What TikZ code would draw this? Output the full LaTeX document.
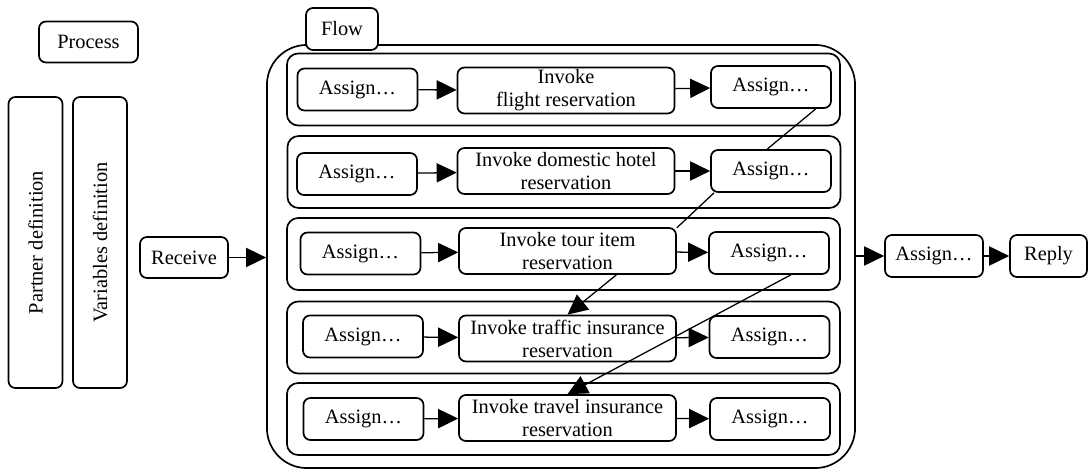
\documentclass[tikz,border=0pt]{standalone}
\usepackage{fontspec}
\setmainfont{Liberation Serif}
\usetikzlibrary{arrows.meta}

\begin{document}
\begin{tikzpicture}[x=0.025cm, y=-0.025cm, line width=0.9pt,
		every node/.style={font=\fontsize{14.5}{16.3}\selectfont},
		box/.style={draw, line width=1.2pt, rounded corners=5pt, align=center, inner sep=0pt},
		rowbox/.style={draw, line width=1.2pt, rounded corners=8pt, minimum width=13.825cm, minimum height=1.8cm},
		assign/.style={box, minimum width=3cm, minimum height=1.05cm},
		invoke/.style={box, minimum width=5.425cm, minimum height=1.15cm},
		arr/.style={-{Triangle[length=0.5cm, width=0.48cm]}}]
		\useasboundingbox (0,0) rectangle (1090,471);
		
		\node[box, minimum width=2.475cm, minimum height=1.025cm] (process) at (88.5,42) {Process};
		\node[box, minimum width=1.35cm, minimum height=7.275cm] (partner) at (35.5,242.5) {};
		\node[rotate=90] at (partner.center) {Partner definition};
		\node[box, minimum width=1.35cm, minimum height=7.275cm] (vars) at (100,242.5) {};
		\node[rotate=90] at (vars.center) {Variables definition};
		\node[box, minimum width=2.2cm, minimum height=1.025cm] (receive) at (184,257.5) {Receive};
		
		\node[draw, line width=1.2pt, rounded corners=1cm, minimum width=14.7cm, minimum height=10.575cm] (flow) at (561,256.5) {};
		\node[box, fill=white, minimum width=1.8cm, minimum height=1.05cm] (flowtab) at (342,29) {Flow};
		
		\node[rowbox] (row1) at (563.5,89.5) {};
		\node[rowbox] (row2) at (564,172) {};
		\node[rowbox] (row3) at (563.5,254) {};
		\node[rowbox] (row4) at (563.5,337.5) {};
		\node[rowbox] (row5) at (563.5,419) {};
		
		\node[assign] (a1) at (357.5,89.5) {Assign\dots};
		\node[invoke] (inv1) at (566,90.5) {Invoke\\flight reservation};
		\node[assign] (b1) at (771,87) {Assign\dots};
		
		\node[assign] (a2) at (357,174) {Assign\dots};
		\node[invoke] (inv2) at (566,171) {Invoke domestic hotel\\reservation};
		\node[assign] (b2) at (771,171) {Assign\dots};
		
		\node[assign] (a3) at (360.5,253.5) {Assign\dots};
		\node[invoke] (inv3) at (567.5,251) {Invoke tour item\\reservation};
		\node[assign] (b3) at (769,253) {Assign\dots};
		
		\node[assign] (a4) at (363,336.5) {Assign\dots};
		\node[invoke] (inv4) at (567.5,338.5) {Invoke traffic insurance\\reservation};
		\node[assign] (b4) at (769.5,337) {Assign\dots};
		
		\node[assign] (a5) at (363.5,419) {Assign\dots};
		\node[invoke] (inv5) at (567.5,418) {Invoke travel insurance\\reservation};
		\node[assign] (b5) at (770,419) {Assign\dots};
		
		\node[box, minimum width=2.45cm, minimum height=1.05cm] (assignout) at (934,256) {Assign\dots};
		\node[box, minimum width=1.925cm, minimum height=1.05cm] (reply) at (1048.5,256) {Reply};
		
		\draw[arr] (receive.east) -- (receive.east -| flow.west);
		\draw[arr] (flow.east |- assignout) -- (assignout);
		\draw[arr] (assignout) -- (reply);
		
		\draw[arr] (a1) -- (inv1);
		\draw[arr] (inv1) -- (b1);
		\draw[arr] (a2) -- (inv2);
		\draw[arr] (inv2) -- (b2);
		\draw[arr] (a3) -- (inv3);
		\draw[arr] (inv3) -- (b3);
		\draw[arr] (a4) -- (inv4);
		\draw[arr] (inv4) -- (b4);
		\draw[arr] (a5) -- (inv5);
		\draw[arr] (inv5) -- (b5);
		
		\draw (b1.-26) -- (b2.100);
		\draw (b2.-159) -- (inv3.12);
		\draw[arr] (inv3.-26) -- (inv4.north);
		\draw[arr] (b3.-45) -- (inv5.north);
	\end{tikzpicture}
\end{document}
